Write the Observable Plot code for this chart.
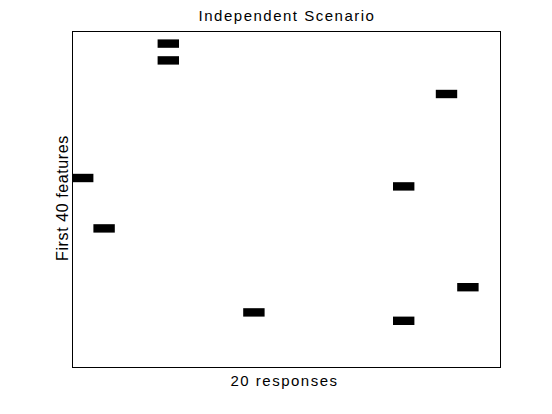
<!DOCTYPE html>
<html>
<head>
<meta charset="utf-8">
<script src="https://cdn.jsdelivr.net/npm/d3@7"></script>
<script src="https://cdn.jsdelivr.net/npm/@observablehq/plot@0.6"></script>
<style>
  html, body { margin: 0; padding: 0; background: #fff; }
  #chart svg { display: block; }
</style>
</head>
<body>
<div id="chart"></div>
<script>
// Non-zero entries of the 40 x 20 indicator matrix (0-based indices)
const responseIndex = [4, 4, 0, 1, 17, 15, 18, 8, 15];
const featureIndex  = [1, 3, 17, 23, 7, 18, 30, 33, 34];
const nResponses = 20;
const nFeatures = 40;
const titleText = "Independent Scenario";
const xLabel = "20 responses";
const yLabel = "First 40 features";

const cells = responseIndex.map((c, i) => ({col: c, row: featureIndex[i]}));
const font = "'Liberation Sans', Arial, Helvetica, sans-serif";

const chart = Plot.plot({
  width: 552,
  height: 414,
  marginLeft: 72,
  marginRight: 52,
  marginTop: 31,
  marginBottom: 47,
  style: {fontFamily: font, background: "#fff", color: "#000"},
  x: {domain: [0, nResponses], axis: null},
  y: {domain: [0, nFeatures], reverse: true, axis: null},
  marks: [
    Plot.rect(cells, {
      x1: d => d.col, x2: d => d.col + 1,
      y1: d => d.row, y2: d => d.row + 1,
      fill: "black"
    }),
    Plot.frame({stroke: "black", strokeWidth: 1}),
    Plot.text([titleText], {
      frameAnchor: "top", dy: -20.8, dx: 0.5, fontSize: 15, fill: "black",
      text: d => d
    }),
    Plot.text([xLabel], {
      frameAnchor: "bottom", dy: 18.2, dx: -2, fontSize: 15, fill: "black",
      text: d => d
    }),
    Plot.text([yLabel], {
      frameAnchor: "left", textAnchor: "middle", dx: -10, dy: -1.5, rotate: -90, fontSize: 16, fill: "black",
      text: d => d
    })
  ]
});
document.getElementById("chart").appendChild(chart);
// letter spacing for labels
chart.querySelectorAll("text").forEach(t => {
  const s = t.textContent;
  if (s === titleText) t.style.letterSpacing = "1.5px";
  if (s === xLabel) t.style.letterSpacing = "1.5px";
  if (s === yLabel) t.style.letterSpacing = "0.6px";
});
</script>
</body>
</html>
